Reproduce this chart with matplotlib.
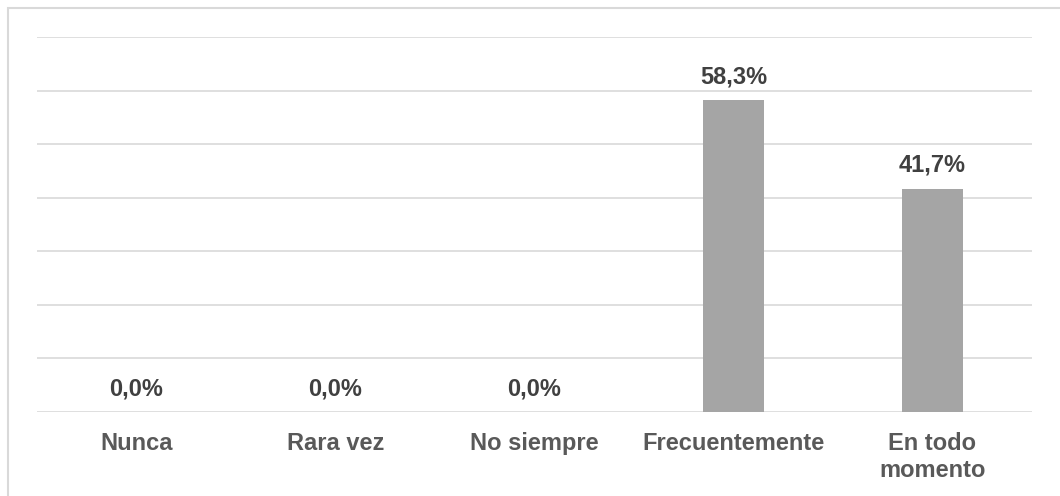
import matplotlib
matplotlib.use("Agg")
import matplotlib.pyplot as plt
from matplotlib.patches import Rectangle

categories = ["Nunca", "Rara vez", "No siempre", "Frecuentemente", "En todo\nmomento"]
values = [0.0, 0.0, 0.0, 58.3, 41.7]
value_labels = ["0,0%", "0,0%", "0,0%", "58,3%", "41,7%"]

W, H, DPI = 1060, 496, 100
fig = plt.figure(figsize=(W / DPI, H / DPI), dpi=DPI)
fig.patch.set_facecolor("white")

# light frame around the chart area
fig.patches.append(Rectangle((7.5 / W, -0.1), 1.2, (H - 7.5) / H + 0.1,
                             transform=fig.transFigure, fill=False,
                             edgecolor="#d9d9d9", linewidth=1.5))

ax = fig.add_axes([37 / W, 84 / H, (1032 - 37) / W, 375 / H])
x = range(len(categories))
ax.bar(x, values, width=0.31, color="#a5a5a5", zorder=3)

ax.set_xlim(-0.5, len(categories) - 0.5)
ax.set_ylim(0, 70)
ax.set_yticks(range(0, 71, 10))
ax.yaxis.grid(True, color="#d9d9d9", linewidth=1.2, zorder=0)
ax.tick_params(axis="y", left=False, labelleft=False)
ax.tick_params(axis="x", bottom=False, pad=11)
for s in ax.spines.values():
    s.set_visible(False)

ax.set_xticks(list(x))
ax.set_xticklabels(categories, fontfamily="Liberation Sans", fontweight="bold",
                   fontsize=17, color="#595959", linespacing=1.2)

for xi, v, lab in zip(x, values, value_labels):
    ax.annotate(lab, (xi, v), xytext=(0, 12), textcoords="offset points",
                ha="center", va="baseline", fontfamily="Liberation Sans",
                fontweight="bold", fontsize=17, color="#404040", zorder=4)

fig.savefig("out.png", dpi=DPI, facecolor="white")
